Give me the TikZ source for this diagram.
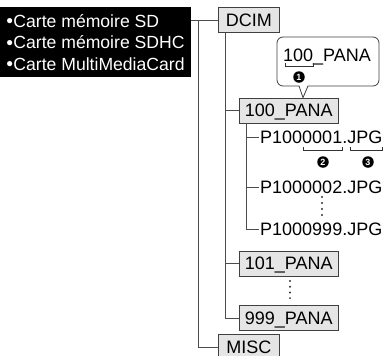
\documentclass[tikz,border=0pt]{standalone}
\usepackage{fontspec}
\setmainfont{Liberation Sans}
\usetikzlibrary{positioning}

\newcommand{\cardbullet}{\raisebox{2.5bp}{\fontsize{12bp}{12bp}\selectfont●}}

\begin{document}
\begin{tikzpicture}[
    x=1bp, y=-1bp,
    font=\fontsize{18bp}{21.5bp}\selectfont,
    cards/.style={fill=black, text=white, align=left, anchor=north west,
                  minimum width=185bp, minimum height=70bp, inner xsep=6bp,
                  font=\fontsize{17.6bp}{21.5bp}\selectfont},
    folder/.style={draw=black!75, fill=black!10, line width=0.8bp,
                   text height=12.9bp, text depth=0bp, inner xsep=5.5bp,
                   inner ysep=6bp, anchor=west},
    file/.style={anchor=west, inner xsep=1bp, inner ysep=0bp,
                 text height=12.9bp, text depth=0bp},
    tree/.style={draw=black!70, line width=1bp},
    callout/.style={draw=black!75, fill=white, line width=0.8bp},
    brk/.style={draw=black!80, line width=0.8bp},
    num/.style={circle, fill=black, text=white, inner sep=0bp,
                minimum size=11.5bp, font=\fontsize{9bp}{9bp}\selectfont\bfseries}
]
    \useasboundingbox (0,0) rectangle (386,356);

    % memory cards
    \node[cards] (cards) at (0,7) {\cardbullet Carte mémoire SD\\\cardbullet Carte mémoire SDHC\\\cardbullet Carte MultiMediaCard};

    % folders
    \node[folder, minimum width=61bp] (dcim) at (218,20) {DCIM};
    \node[folder] (p100) at (239,110.5) {100\_PANA};
    \node[folder] (p101) at (239,263.5) {101\_PANA};
    \node[folder] (p999) at (239,318) {999\_PANA};
    \node[folder, minimum width=61bp] (misc) at (218,347) {MISC};

    % files
    \node[file] (f001) at (259,137) {P1000001.JPG};
    \node[file] (f002) at (259,187) {P1000002.JPG};
    \node[file] (f999) at (259,229) {P1000999.JPG};

    % tree lines
    \draw[tree] (cards.east |- dcim.west) -- (dcim.west);
    \draw[tree] ([xshift=-20bp]dcim.west) |- (misc.west);
    \draw[tree] ([xshift=7bp]dcim.south west) |- (p999.west);
    \draw[tree] ([xshift=7bp]dcim.south west |- p100.west) -- (p100.west);
    \draw[tree] ([xshift=7bp]dcim.south west |- p101.west) -- (p101.west);
    \draw[tree] ([xshift=7bp]p100.south west) |- (f999.west);
    \draw[tree] ([xshift=7bp]p100.south west |- f001.west) -- (f001.west);
    \draw[tree] ([xshift=7bp]p100.south west |- f002.west) -- (f002.west);

    % dots
    \foreach \k in {0,...,3} {
        \fill[black!80] (322,197+6*\k) circle (1.1bp);
        \fill[black!80] (290,281+5.7*\k) circle (1.1bp);
    }

    % callout
    \coordinate (tip) at ([xshift=64bp]p100.north west);
    \draw[callout] (328,37) [rounded corners=6bp] -- (379,37) -- (379,86)
        [sharp corners] -- (308,86) -- (tip) -- (299,86)
        [rounded corners=6bp] -- (277,86) -- (277,37) -- cycle;
    \node[file] (ctext) at (282,55) {100\_PANA};
    \draw[brk] (285,63) |- (313,66) -- (313,63);
    \node[num] (n1) at (299,77) {1};

    % brackets under the file name
    \draw[brk] (303,147) |- (342,150) -- (342,147);
    \draw[brk] (350,147) |- (382,150) -- (382,147);
    \node[num] (n2) at (323,162) {2};
    \node[num] (n3) at (368,162) {3};
\end{tikzpicture}
\end{document}
